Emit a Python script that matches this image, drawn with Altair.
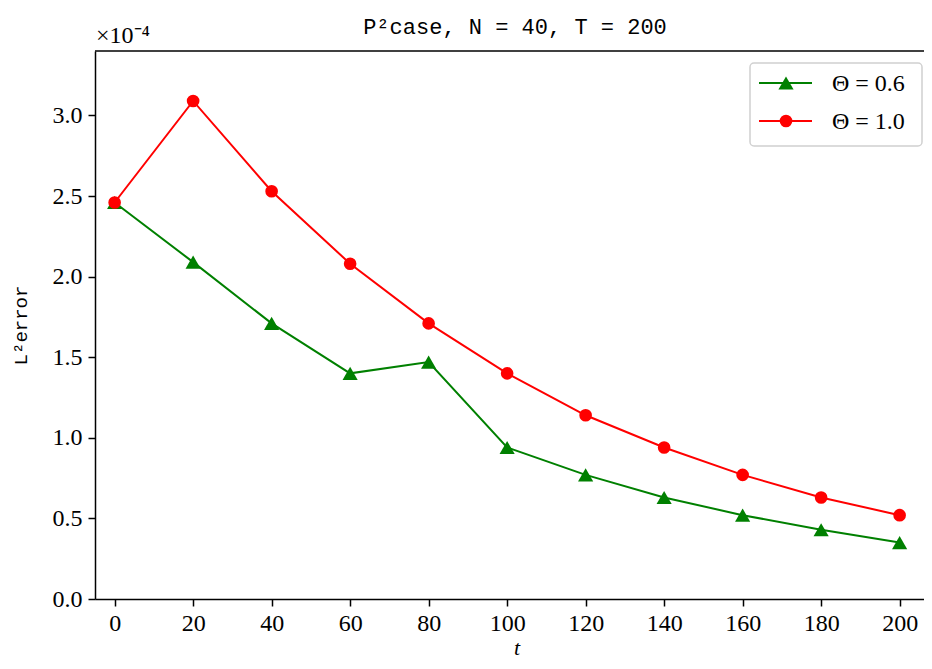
import altair as alt
import pandas as pd

# ---- data (values in units of 1e-4) ----
t_values = [0, 20, 40, 60, 80, 100, 120, 140, 160, 180, 200]
theta06 = [2.46, 2.09, 1.71, 1.40, 1.47, 0.94, 0.77, 0.63, 0.52, 0.43, 0.35]
theta10 = [2.46, 3.09, 2.53, 2.08, 1.71, 1.40, 1.14, 0.94, 0.77, 0.63, 0.52]
series_names = ["Θ = 0.6", "Θ = 1.0"]
series_colors = ["#008000", "#ff0000"]
series_shapes = ["triangle-up", "circle"]
series_sizes = [230, 160]
y_ticks = [0.0, 0.5, 1.0, 1.5, 2.0, 2.5, 3.0]
x_ticks = [0, 20, 40, 60, 80, 100, 120, 140, 160, 180, 200]
title_text = "P²case, N = 40, T = 200"
exp_text = "×10⁻⁴"
x_title = "t"

rows = []
for name, vals in zip(series_names, [theta06, theta10]):
    for t, v in zip(t_values, vals):
        rows.append({"t": t, "err": v, "series": name})
df = pd.DataFrame(rows)

W, H = 829, 548
X_MAX = -5 + W / 3.925
SERIF = "Liberation Serif"
MONO = "Liberation Mono"

x_enc = alt.X("t:Q", scale=alt.Scale(domain=[-5, X_MAX], nice=False, zero=False),
              axis=alt.Axis(values=x_ticks, title=None))
y_enc = alt.Y("err:Q", scale=alt.Scale(domain=[0, 3.4], nice=False),
              axis=alt.Axis(values=y_ticks, format=".1f", title="L²error",
                            titleFont=MONO, titleFontWeight="normal",
                            titleFontSize=19, titlePadding=22))
color_enc = alt.Color("series:N", scale=alt.Scale(domain=series_names, range=series_colors), legend=None)
shape_enc = alt.Shape("series:N", scale=alt.Scale(domain=series_names, range=series_shapes), legend=None)
size_enc = alt.Size("series:N", scale=alt.Scale(domain=series_names, range=series_sizes), legend=None)

lines = alt.Chart(df).mark_line(strokeWidth=2).encode(x=x_enc, y=y_enc, color=color_enc, detail="series:N")
points = alt.Chart(df).mark_point(filled=True, opacity=1).encode(
    x="t:Q", y="err:Q", color=color_enc, shape=shape_enc, size=size_enc)

top_spine = alt.Chart(pd.DataFrame({"a": [0]})).mark_rule(color="black", strokeWidth=1.5).encode(
    x=alt.value(0), x2=alt.value(W), y=alt.value(0))

exp_label = alt.Chart(pd.DataFrame({"lab": [exp_text]})).mark_text(
    font=SERIF, fontSize=24, align="left", baseline="alphabetic", color="black").encode(
    x=alt.value(1), y=alt.value(-8), text="lab:N")

title_mark = alt.Chart(pd.DataFrame({"lab": [title_text]})).mark_text(
    font=MONO, fontSize=22, align="center", baseline="alphabetic", color="black").encode(
    x=alt.value(420), y=alt.value(-17), text="lab:N")

xlabel_mark = alt.Chart(pd.DataFrame({"lab": [x_title]})).mark_text(
    font=SERIF, fontSize=22, fontStyle="italic", align="center", baseline="bottom", color="black").encode(
    x=alt.value(422), y=alt.value(H + 61), text="lab:N")

# legend
legend_box = alt.Chart(pd.DataFrame({"a": [0]})).mark_rect(
    fill="white", stroke="#cccccc", strokeWidth=1.5, cornerRadius=4, opacity=0.9).encode(
    x=alt.value(655), x2=alt.value(827), y=alt.value(12), y2=alt.value(95))
legend_layers = [legend_box]
for i, (name, col, shp, sz) in enumerate(zip(series_names, series_colors, series_shapes, series_sizes)):
    yy = 32 + i * 38
    d = pd.DataFrame({"label": [name]})
    legend_layers.append(alt.Chart(d).mark_rule(color=col, strokeWidth=2).encode(
        x=alt.value(664), x2=alt.value(717), y=alt.value(yy)))
    legend_layers.append(alt.Chart(d).mark_point(filled=True, opacity=1, size=sz, color=col, shape=shp).encode(
        x=alt.value(691), y=alt.value(yy)))
    legend_layers.append(alt.Chart(d).mark_text(font=SERIF, fontSize=24, align="left", baseline="middle",
                                                color="black").encode(
        x=alt.value(737), y=alt.value(yy + 1), text="label:N"))

chart = alt.layer(lines, points, top_spine, exp_label, title_mark, xlabel_mark, *legend_layers).properties(
    width=W, height=H,
    autosize=alt.AutoSizeParams(type="none"),
    padding={"left": 87, "top": 43, "right": 0, "bottom": 61},
).configure_view(stroke=None).configure_axis(
    grid=False, domainColor="black", domainWidth=1.5, tickColor="black", tickWidth=1.5,
    tickSize=7, labelFont=SERIF, labelFontSize=24, labelColor="black", labelPadding=6,
    titleColor="black"
).configure_axisX(labelPadding=5)

chart.save("out.html", embed_options={"renderer": "svg", "actions": False})
